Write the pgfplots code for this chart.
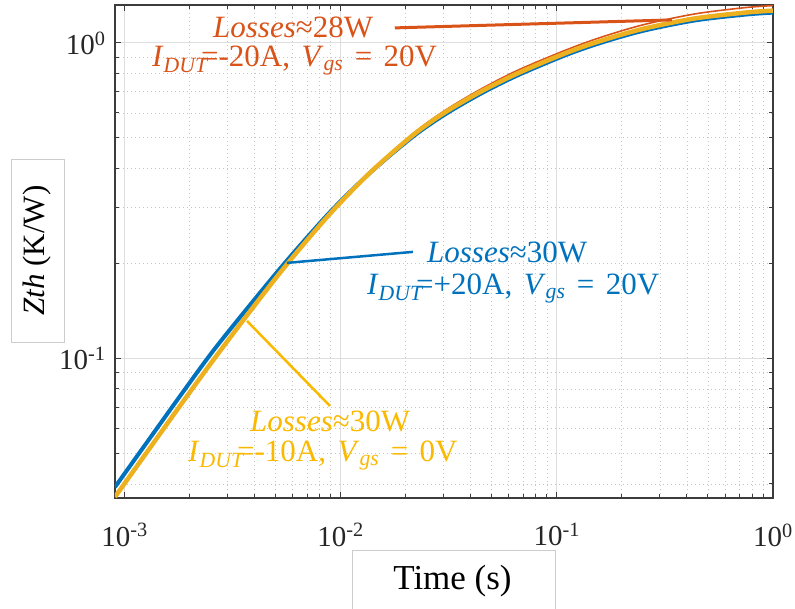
\documentclass[border=0pt]{standalone}
\usepackage{fontspec}
\setmainfont{Liberation Serif}
\usepackage{pgfplots}
\pgfplotsset{compat=1.18}
\definecolor{mblue}{RGB}{0,114,189}
\definecolor{morange}{RGB}{217,83,25}
\definecolor{myellow}{RGB}{237,177,32}
\definecolor{tyellow}{RGB}{250,185,0}
\definecolor{axcol}{RGB}{60,60,60}
\newcommand\annfont{\fontsize{31}{37}\selectfont\spaceskip=0.37em\relax}

\pgfplotstableread{
t Z
9.04e-4 0.039110
1.2707e-3 0.054210
1.8057e-3 0.075902
2.5661e-3 0.105452
3.8063e-3 0.147638
5.6437e-3 0.204322
8.9241e-3 0.290877
0.013661 0.387340
0.021603 0.504670
0.030371 0.593298
0.044085 0.688249
0.065369 0.787525
0.10900 0.912813
0.15824 0.998549
0.25018 1.09218
0.43518 1.17852
0.74906 1.23042
1.0 1.24760
}\blue

\pgfplotstableread{
t Z
9.04e-4 0.036392
1.2707e-3 0.050466
1.8057e-3 0.070690
2.5661e-3 0.098478
3.8063e-3 0.140914
5.6437e-3 0.198877
8.9241e-3 0.287296
0.013661 0.387627
0.021603 0.510221
0.030371 0.602006
0.044085 0.698376
0.065369 0.799105
0.10900 0.926240
0.15824 1.01323
0.25018 1.10823
0.43518 1.19581
0.74906 1.24844
1.0 1.26586
}\yellow

\pgfplotstableread{
t Z
9.04e-4 0.036392
1.2707e-3 0.050466
1.8057e-3 0.070690
2.5661e-3 0.098478
3.8063e-3 0.140914
5.6437e-3 0.198877
8.9241e-3 0.287296
0.013661 0.387627
0.021603 0.515849
0.030371 0.610855
0.044085 0.711237
0.065369 0.816813
0.10900 0.946733
0.15824 1.03943
0.25018 1.14120
0.43518 1.23583
0.74906 1.29480
1.0 1.31288
}\orange

\begin{document}
\begin{tikzpicture}[x=1pt,y=1pt]
\begin{axis}[
  at={(0,0)}, anchor=south west,
  scale only axis, width=658pt, height=493pt,
  xmode=log, ymode=log,
  xmin=9.04e-4, xmax=1, ymin=0.0361, ymax=1.319,
  xtick={0.001,0.01,0.1,1},
  xticklabels={10\textsuperscript{-3},10\textsuperscript{-2},10\textsuperscript{-1},10\textsuperscript{0}},
  ytick={0.1,1},
  yticklabels={10\textsuperscript{-1},10\textsuperscript{0}},
  minor xtick={0.002,0.003,0.004,0.005,0.006,0.007,0.008,0.009,0.02,0.03,0.04,0.05,0.06,0.07,0.08,0.09,0.2,0.3,0.4,0.5,0.6,0.7,0.8,0.9},
  minor ytick={0.04,0.05,0.06,0.07,0.08,0.09,0.2,0.3,0.4,0.5,0.6,0.7,0.8,0.9},
  tick align=inside, xtick pos=both, ytick pos=both,
  major tick length=6pt, minor tick length=4pt,
  grid=both,
  major grid style={line width=1pt, color=black!13},
  minor grid style={line width=0.8pt, color=black!22, dash pattern=on 1pt off 3pt},
  axis line style={line width=1.2pt, color=axcol},
  every tick/.style={line width=1pt, color=axcol},
  tick label style={font=\fontsize{29}{34}\selectfont, color=black!85},
  xticklabel style={yshift=-22pt},
  yticklabel style={xshift=-6pt},
  clip=true,
]
\addplot[mblue, line width=4pt, smooth, tension=0.5] table[x=t,y=Z]{\blue};
\addplot[morange, line width=1.6pt, smooth, tension=0.5] table[x=t,y=Z]{\orange};
\addplot[myellow, line width=4.5pt, smooth, tension=0.5] table[x=t,y=Z]{\yellow};
\draw[morange, line width=3pt] (axis cs:0.0178,1.116) -- (axis cs:0.3406,1.183);
\draw[mblue, line width=2.5pt] (axis cs:5.64e-3,0.2008) -- (axis cs:0.0216,0.2176);
\draw[tyellow, line width=2.5pt] (axis cs:3.686e-3,0.1315) -- (axis cs:8.92e-3,0.0707);
\end{axis}
\begin{scope}[every node/.style={inner sep=0pt, anchor=base west}]
\node[text=morange] at (98,460) {\annfont\textit{Losses}≈28W};
\node[text=morange] at (37,431) {\annfont\textit{I}\textsubscript{\textit{DUT}}\kern-0.25em=-20A, \textit{V}\textsubscript{\textit{gs}} = 20V};
\node[text=mblue] at (312,235) {\annfont\textit{Losses}≈30W};
\node[text=mblue] at (252,203) {\annfont\textit{I}\textsubscript{\textit{DUT}}\kern-0.25em=+20A, \textit{V}\textsubscript{\textit{gs}} = 20V};
\node[text=tyellow] at (135,66) {\annfont\textit{Losses}≈30W};
\node[text=tyellow] at (73,36) {\annfont\textit{I}\textsubscript{\textit{DUT}}\kern-0.25em=-10A, \textit{V}\textsubscript{\textit{gs}} = 0V};
\end{scope}
% y label box
\node[draw=black!20, fill=white, line width=0.8pt, rotate=90, minimum width=183pt, minimum height=53pt, inner sep=0pt, font=\fontsize{31}{37}\selectfont] at (-77.5,247.5) {\textit{Zth} (K/W)};
% x label box
\draw[black!20, fill=white, line width=0.8pt] (237,-52) rectangle (440,-140);
\node[anchor=base, inner sep=0pt, font=\fontsize{35}{42}\selectfont] at (337.5,-91) {Time (s)};
\pgfresetboundingbox
\useasboundingbox (-115,-110) rectangle (680,498);
\end{tikzpicture}
\end{document}
